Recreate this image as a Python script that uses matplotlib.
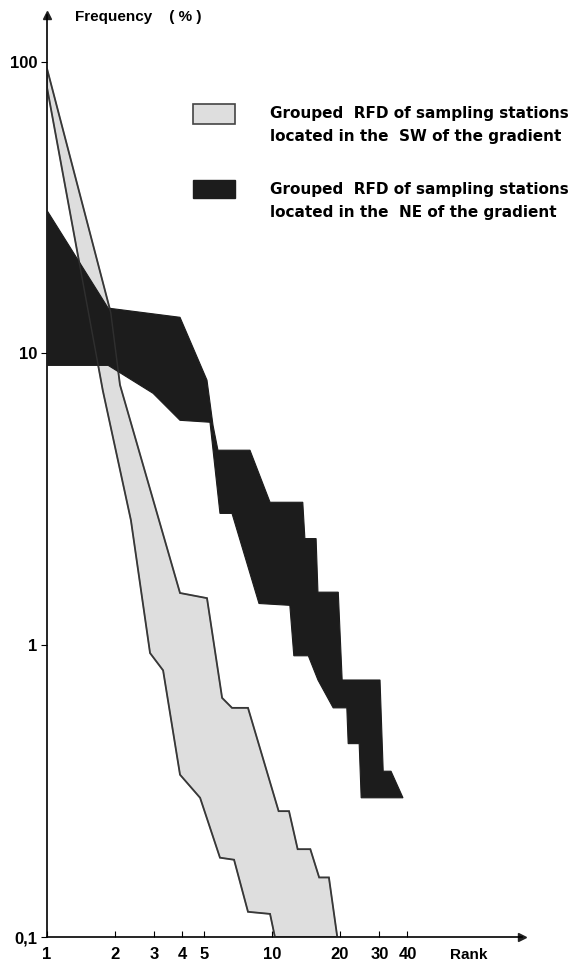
import matplotlib
matplotlib.use('Agg')
import matplotlib.pyplot as plt
import numpy as np
from matplotlib.patches import Rectangle

plt.rcParams['font.family'] = ['Liberation Sans', 'DejaVu Sans']
plt.rcParams['font.weight'] = 'bold'

# SW band (light grey): upper and lower boundary (rank, frequency %)
sw_upper_rank = [1.0, 1.92, 2.11, 3.9, 5.14, 6.0, 6.64, 7.82, 10.7, 11.9, 13.0, 14.8, 16.2, 17.9, 19.5]
sw_upper_freq = [94.6, 13.8, 7.8, 1.51, 1.45, 0.66, 0.61, 0.61, 0.27, 0.27, 0.20, 0.20, 0.16, 0.16, 0.1]
sw_lower_rank = [1.0, 1.77, 2.36, 2.87, 3.28, 3.9, 4.79, 5.87, 6.78, 7.82, 9.8, 10.3]
sw_lower_freq = [81.5, 7.46, 2.68, 0.94, 0.82, 0.36, 0.30, 0.187, 0.184, 0.122, 0.12, 0.1]

# NE band (black)
ne_upper_rank = [1.0, 1.87, 3.9, 5.14, 5.47, 5.75, 7.98, 9.8, 13.7, 14.0, 15.7, 16.0,
                 19.7, 20.5, 30.2, 31.2, 33.8, 38.2]
ne_upper_freq = [30.9, 14.3, 13.3, 8.1, 5.66, 4.66, 4.66, 3.09, 3.09, 2.32, 2.32, 1.52,
                 1.52, 0.76, 0.76, 0.37, 0.37, 0.30]
ne_lower_rank = [1.0, 1.87, 2.96, 3.9, 5.3, 5.87, 6.64, 8.75, 12.0, 12.5, 14.5, 16.0,
                 18.7, 21.5, 21.8, 24.4, 24.9, 38.2]
ne_lower_freq = [9.1, 9.1, 7.3, 5.9, 5.81, 2.83, 2.83, 1.39, 1.37, 0.92, 0.92, 0.76,
                 0.61, 0.61, 0.46, 0.46, 0.30, 0.30]

x_ticks = [1, 2, 3, 4, 5, 10, 20, 30, 40]
x_labels = ['1', '2', '3', '4', '5', '10', '20', '30', '40']
y_ticks = [0.1, 1, 10, 100]
y_labels = ['0,1', '1', '10', '100']

fig = plt.figure(figsize=(5.77, 9.65), dpi=100)
ax = fig.add_axes([0.0815, 0.029, 0.823, 0.955])
ax.set_xscale('log')
ax.set_yscale('log')
ax.set_xlim(1, 129)
ax.set_ylim(0.1, 144)

# grey band
sx = np.concatenate([sw_upper_rank, sw_lower_rank[::-1]])
sy = np.concatenate([sw_upper_freq, sw_lower_freq[::-1]])
ax.fill(sx, sy, facecolor='#dedede', edgecolor='#2a2a2a', linewidth=1.3, zorder=2)

# black band, grey outline shows faintly through it
nx = np.concatenate([ne_upper_rank, ne_lower_rank[::-1]])
ny = np.concatenate([ne_upper_freq, ne_lower_freq[::-1]])
ax.fill(nx, ny, facecolor='#1c1c1c', edgecolor='#1c1c1c', linewidth=0.8, zorder=3)
ax.fill(sx, sy, facecolor='none', edgecolor='#555555', linewidth=1.0, alpha=0.35, zorder=4)

# axes look
for s in ['top', 'right']:
    ax.spines[s].set_visible(False)
ax.spines['left'].set_linewidth(1.2)
ax.spines['bottom'].set_linewidth(1.2)
ax.plot(1, 0, '>', color='#222222', markersize=6, transform=ax.transAxes, clip_on=False)
ax.plot(0, 1, '^', color='#222222', markersize=6, transform=ax.transAxes, clip_on=False)

ax.minorticks_off()
ax.set_xticks(x_ticks)
ax.set_xticklabels(x_labels)
ax.set_yticks(y_ticks)
ax.set_yticklabels(y_labels)
ax.tick_params(axis='x', direction='in', length=4, pad=7, labelsize=12)
ax.tick_params(axis='y', direction='out', length=4, pad=3, labelsize=12)

fig.text(0.13, 0.982, 'Frequency    ( % )', fontsize=11, va='center', ha='left')
fig.text(0.78, 0.0104, 'Rank', fontsize=11, va='center', ha='left')

# legend
fig.patches.append(Rectangle((0.3345, 0.8715), 0.0728, 0.0207, transform=fig.transFigure,
                             facecolor='#dedede', edgecolor='#444444', linewidth=1.2))
fig.patches.append(Rectangle((0.3345, 0.7948), 0.0728, 0.0187, transform=fig.transFigure,
                             facecolor='#1c1c1c', edgecolor='#1c1c1c', linewidth=1.0))
fig.text(0.468, 0.8705, 'Grouped  RFD of sampling stations\nlocated in the  SW of the gradient',
         fontsize=11, va='center', ha='left', linespacing=1.65, family='DejaVu Sans')
fig.text(0.468, 0.792, 'Grouped  RFD of sampling stations\nlocated in the  NE of the gradient',
         fontsize=11, va='center', ha='left', linespacing=1.65, family='DejaVu Sans')

fig.savefig('out.png', dpi=100)
